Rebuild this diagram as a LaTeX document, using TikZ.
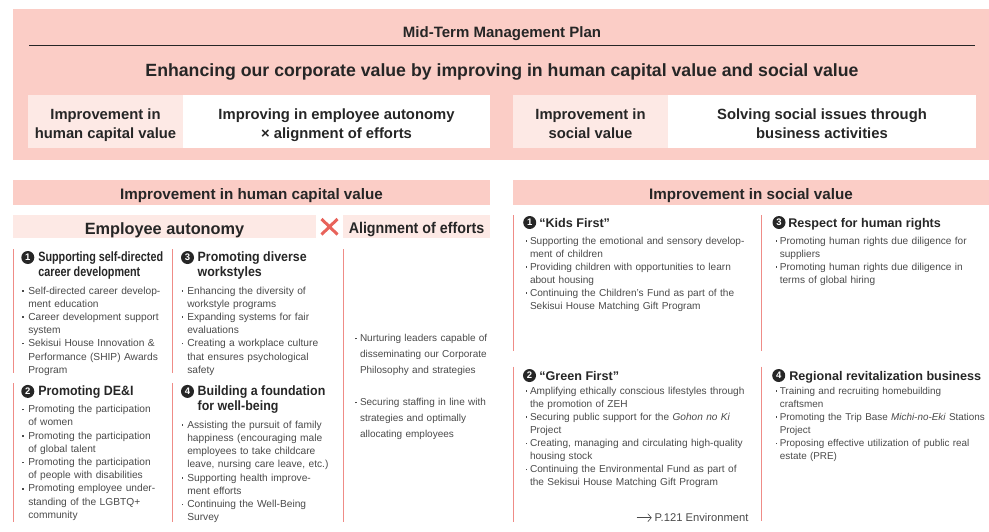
\documentclass[tikz,border=0pt]{standalone}
\usepackage{fontspec}
\setmainfont{Liberation Sans}
\newfontfamily\condf[FakeStretch=0.8]{Liberation Sans}
\newfontfamily\semicf[FakeStretch=0.92]{Liberation Sans}
\usetikzlibrary{arrows.meta}
\definecolor{pinkA}{HTML}{FBCDC6}
\definecolor{pinkB}{HTML}{FDE9E5}
\definecolor{redl}{HTML}{EF8C87}
\definecolor{crossc}{HTML}{E8635B}
\definecolor{darkc}{HTML}{262626}
\definecolor{bodyc}{HTML}{4A4A4A}
\newlength\bw
\newcommand\nl{\hfil\break}
\newcommand\bdot{\makebox[\bw][l]{\raisebox{2.4pt}{\rule{1.6pt}{1.6pt}}}\rule{0pt}{8pt}}
\newcommand\itm[1]{\noindent\hangindent=\bw\hangafter=1\relax\bdot#1\par}
\newcommand\bodyf{\fontsize{10.2}{13.2}\selectfont}
\begin{document}
\begin{tikzpicture}[x=1pt,y=-1pt,
  every node/.style={inner sep=0pt, outer sep=0pt},
  boxtxt/.style={anchor=north, align=center, text=darkc, font=\fontsize{14.8}{18.5}\selectfont\bfseries},
  bartxt/.style={anchor=base, text=darkc, font=\fontsize{15.2}{18}\selectfont\bfseries},
  numc/.style={circle, fill=darkc, text=white, minimum size=13pt, font=\fontsize{9.5}{9.5}\selectfont\bfseries},
  hcond/.style={anchor=north west, align=left, text=darkc, font=\condf\bfseries\fontsize{13.5}{15}\selectfont},
  hsemi/.style={anchor=north west, align=left, text=darkc, font=\semicf\bfseries\fontsize{13.5}{15}\selectfont},
  hright/.style={anchor=base west, text=darkc, font=\fontsize{12.6}{15}\selectfont\bfseries},
  bodytxt/.style={anchor=north west, text width=#1, align=left, text=bodyc, font=\bodyf},
  redline/.style={draw=redl, line width=1pt}
]
\useasboundingbox (0,0) rectangle (989,531);
% ---------- top plan box
\fill[pinkA] (13,9) rectangle (989,160);
\node[anchor=base, text=darkc, font=\fontsize{15}{18}\selectfont\bfseries] (mtp) at (502,37.3) {Mid-Term Management Plan};
\draw[darkc, line width=1pt] (29,45) -- (975,45);
\node[anchor=base, text=darkc, font=\fontsize{17.7}{21}\selectfont\bfseries] (enh) at (502,76) {Enhancing our corporate value by improving in human capital value and social value};
\fill[pinkB] (28,95) rectangle (183,148);
\fill[white] (183,95) rectangle (490,148);
\fill[pinkB] (513,95) rectangle (668,148);
\fill[white] (668,95) rectangle (976,148);
\node[boxtxt] (hct) at (105.5,108.5) {\rule{0pt}{11pt}Improvement in\\human capital value};
\node[boxtxt] (hcw) at (336.5,108.5) {\rule{0pt}{11pt}Improving in employee autonomy\\× alignment of efforts};
\node[boxtxt] (sct) at (590.5,108.5) {\rule{0pt}{11pt}Improvement in\\social value};
\node[boxtxt] (scw) at (822,108.5) {\rule{0pt}{11pt}Solving social issues through\\business activities};
% ---------- left half
\fill[pinkA] (13,180) rectangle (490,205);
\node[bartxt] (hcb) at (251.5,199.3) {Improvement in human capital value};
\fill[pinkB] (13,215) rectangle (316,238);
\node[anchor=base, text=darkc, font=\fontsize{16.3}{19}\selectfont\bfseries] (ea) at (164.5,234) {Employee autonomy};
\fill[pinkB] (343,215) rectangle (490,238);
\node[anchor=base, text=darkc, font=\semicf\bfseries\fontsize{15.5}{18}\selectfont] (ae) at (416.5,233.3) {Alignment of efforts};
\draw[crossc, line width=3pt] (321.5,219) -- (337.5,234.5) (337.5,219) -- (321.5,234.5);
\draw[redline] (13.3,249.3) -- (13.3,373.3) (13.3,383.3) -- (13.3,521.7);
\draw[redline] (172.3,249.3) -- (172.3,373.3) (172.3,383.3) -- (172.3,521.7);
\draw[redline] (343.3,249.3) -- (343.3,521.7);
\node[numc] (c1) at (27.8,257.5) {1};
\node[numc] (c3) at (187.5,257.5) {3};
\node[numc] (c2) at (27.8,391.4) {2};
\node[numc] (c4) at (187.5,391.4) {4};
\node[hcond] (h1) at (38.3,251.7) {\rule{0pt}{10pt}Supporting self-directed\\career development};
\node[hsemi] (h3) at (197.7,251.7) {\rule{0pt}{10pt}Promoting diverse\\workstyles};
\node[hsemi] (h2) at (38.3,385) {\rule{0pt}{10pt}Promoting DE\&I};
\node[hsemi] (h4) at (197.7,385) {\rule{0pt}{10pt}Building a foundation\\for well-being};
\node[bodytxt=150pt] (b1) at (22.2,286) {\setlength\bw{6.1pt}%
\itm{Self-directed career develop-\nl ment education}%
\itm{Career development support\nl system}%
\itm{Sekisui House Innovation \&\nl Performance (SHIP) Awards\nl Program}};
\node[bodytxt=150pt] (b2) at (22.2,404.7) {\setlength\bw{6.1pt}%
\itm{Promoting the participation\nl of women}%
\itm{Promoting the participation\nl of global talent}%
\itm{Promoting the participation\nl of people with disabilities}%
\itm{Promoting employee under-\nl standing of the LGBTQ+\nl community}};
\node[bodytxt=160pt] (b3) at (181.7,286) {\setlength\bw{5.6pt}%
\itm{Enhancing the diversity of\nl workstyle programs}%
\itm{Expanding systems for fair\nl evaluations}%
\itm{Creating a workplace culture\nl that ensures psychological\nl safety}};
\node[bodytxt=160pt] (b4) at (181.7,420.3) {\setlength\bw{5.6pt}%
\itm{Assisting the pursuit of family\nl happiness (encouraging male\nl employees to take childcare\nl leave, nursing care leave, etc.)}%
\itm{Supporting health improve-\nl ment efforts}%
\itm{Continuing the Well-Being\nl Survey}};
\node[bodytxt=150pt, font=\fontsize{10}{16}\selectfont] (b5) at (355.3,333.7) {\setlength\bw{4.7pt}%
\itm{Nurturing leaders capable of\nl disseminating our Corporate\nl Philosophy and strategies}%
\vspace{16pt}%
\itm{Securing staffing in line with\nl strategies and optimally\nl allocating employees}};
% ---------- right half
\fill[pinkA] (513,180) rectangle (989,205);
\node[bartxt] (scb) at (751,199.3) {Improvement in social value};
\draw[redline] (513.3,215) -- (513.3,351) (513.3,366.7) -- (513.3,521.7);
\draw[redline] (761,215) -- (761,351) (761,366.7) -- (761,520.7);
\node[numc] (k1) at (529.7,222.5) {1};
\node[numc] (k3) at (779,222.5) {3};
\node[numc] (k2) at (529.5,375.5) {2};
\node[numc] (k4) at (778.7,375.5) {4};
\node[hright] (r1) at (539.3,227.7) {“Kids First”};
\node[hright] (r3) at (788.3,227.5) {Respect for human rights};
\node[hright] (r2) at (539.3,380.3) {“Green First”};
\node[hright] (r4) at (789.3,380.3) {Regional revitalization business};
\node[bodytxt=240pt, font=\fontsize{10.1}{13}\selectfont] (k1b) at (525.7,236) {\setlength\bw{4.3pt}%
\itm{Supporting the emotional and sensory develop-\nl ment of children}%
\itm{Providing children with opportunities to learn\nl about housing}%
\itm{Continuing the Children’s Fund as part of the\nl Sekisui House Matching Gift Program}};
\node[bodytxt=220pt, font=\fontsize{10.1}{13}\selectfont] (k3b) at (775.5,236) {\setlength\bw{4.3pt}%
\itm{Promoting human rights due diligence for\nl suppliers}%
\itm{Promoting human rights due diligence in\nl terms of global hiring}};
\node[bodytxt=240pt, font=\fontsize{10.1}{13.05}\selectfont] (k2b) at (525.7,386.3) {\setlength\bw{4.3pt}%
\itm{Amplifying ethically conscious lifestyles through\nl the promotion of ZEH}%
\itm{Securing public support for the \textit{Gohon no Ki}\nl Project}%
\itm{Creating, managing and circulating high-quality\nl housing stock}%
\itm{Continuing the Environmental Fund as part of\nl the Sekisui House Matching Gift Program}};
\node[bodytxt=220pt, font=\fontsize{9.9}{13.05}\selectfont] (k4b) at (775.5,386.3) {\setlength\bw{4.3pt}%
\itm{Training and recruiting homebuilding\nl craftsmen}%
\itm{Promoting the Trip Base \textit{Michi-no-Eki} Stations\nl Project}%
\itm{Proposing effective utilization of public real\nl estate (PRE)}};
\node[anchor=base east, text=bodyc, font=\fontsize{11.2}{12}\selectfont] (env) at (748.5,521.7) {P.121 Environment};
\draw[bodyc, line width=0.6pt, -{Straight Barb[length=3.5pt,width=8pt]}] ([xshift=-18pt,yshift=4pt]env.base west) -- ([xshift=-3pt,yshift=4pt]env.base west);
\end{tikzpicture}
\end{document}
